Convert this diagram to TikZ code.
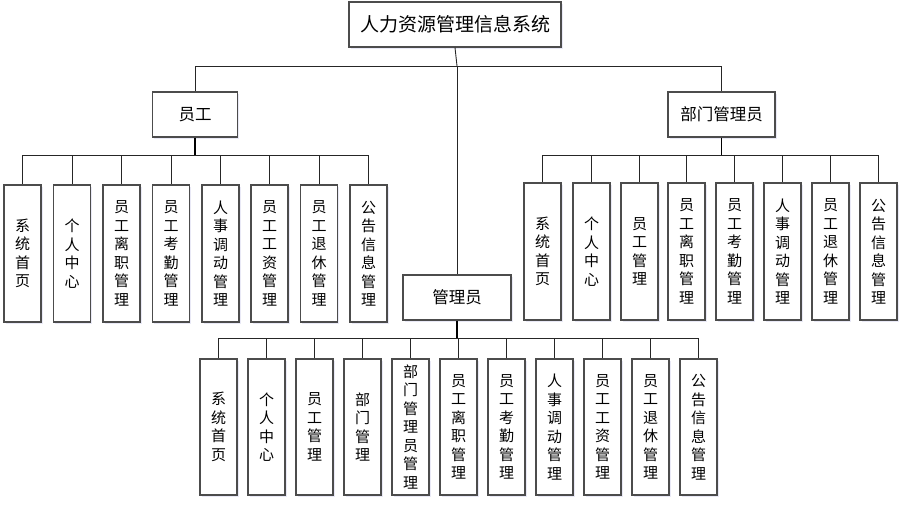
\documentclass[tikz,border=0pt]{standalone}
\usepackage{fontspec}
\setmainfont{Noto Sans CJK SC}
\usetikzlibrary{shadows}
\begin{document}
\begin{tikzpicture}[x=1pt,y=-1pt,
  box/.style={draw=black!70, line width=1.2pt, fill=white, inner sep=0pt,
    drop shadow={opacity=0.12, shadow xshift=1.5pt, shadow yshift=-1.5pt, fill=blue!40!gray}},
  topbox/.style={box, minimum width=212pt, minimum height=45pt, font=\fontsize{19}{22}\selectfont},
  midbox/.style={box, minimum height=45pt, font=\fontsize{16.5}{20}\selectfont},
  leaf/.style={box, minimum width=37pt, align=center, font=\fontsize{15}{18.5}\selectfont},
  conn/.style={draw=black!85, line width=0.9pt},
  stem/.style={draw=black, line width=1.8pt}
]
\useasboundingbox (0,0) rectangle (904,506);

\node[topbox] (top) at (455,24.5) {人力资源管理信息系统};
\node[midbox, minimum width=85pt] (yg) at (195,114.5) {员工};
\node[midbox, minimum width=107pt] (bm) at (721.5,114.5) {部门管理员};
\node[midbox, minimum width=108pt] (gl) at (457,297.5) {管理员};

\coordinate (j) at (457,66);
\draw[conn] (top.south) -- (j);
\draw[conn] (j) -| (yg.north);
\draw[conn] (j) -| (bm.north);
\draw[conn] (j) -- (gl.north);

% employee children
\foreach \i/\x/\t in {1/22.5/{系\\统\\首\\页},2/72/{个\\人\\中\\心},3/121.5/{员\\工\\离\\职\\管\\理},
  4/171/{员\\工\\考\\勤\\管\\理},5/220.5/{人\\事\\调\\动\\管\\理},6/269.5/{员\\工\\工\\资\\管\\理},
  7/319/{员\\工\\退\\休\\管\\理},8/368.5/{公\\告\\信\\息\\管\\理}}{
  \node[leaf, minimum height=137pt] (e\i) at (\x,253.5) {\t};
}
\coordinate (eb) at (195,155);
\draw[stem] (yg.south) -- (eb);
\foreach \i in {1,...,8}{\draw[conn] (eb) -| (e\i.north);}

% dept admin children
\foreach \i/\x/\t in {1/542.5/{系\\统\\首\\页},2/591.5/{个\\人\\中\\心},3/639.5/{员\\工\\管\\理},
  4/686.5/{员\\工\\离\\职\\管\\理},5/734.5/{员\\工\\考\\勤\\管\\理},6/782.5/{人\\事\\调\\动\\管\\理},
  7/830.5/{员\\工\\退\\休\\管\\理},8/878.5/{公\\告\\信\\息\\管\\理}}{
  \node[leaf, minimum height=137pt] (d\i) at (\x,251.5) {\t};
}
\coordinate (db) at (721.5,155);
\draw[stem] (bm.south) -- (db);
\foreach \i in {1,...,8}{\draw[conn] (db) -| (d\i.north);}

% admin children
\foreach \i/\x/\t in {1/218.5/{系\\统\\首\\页},2/266.5/{个\\人\\中\\心},3/314.5/{员\\工\\管\\理},
  4/362.5/{部\\门\\管\\理},5/410.5/{部\\门\\管\\理\\员\\管\\理},6/458.5/{员\\工\\离\\职\\管\\理},
  7/506.5/{员\\工\\考\\勤\\管\\理},8/554.5/{人\\事\\调\\动\\管\\理},9/602.5/{员\\工\\工\\资\\管\\理},
  10/650.5/{员\\工\\退\\休\\管\\理},11/698.5/{公\\告\\信\\息\\管\\理}}{
  \node[leaf, minimum height=136pt] (a\i) at (\x,427) {\t};
}
\coordinate (ab) at (457,338);
\draw[stem] (gl.south) -- (ab);
\foreach \i in {1,...,11}{\draw[conn] (ab) -| (a\i.north);}
\end{tikzpicture}
\end{document}
